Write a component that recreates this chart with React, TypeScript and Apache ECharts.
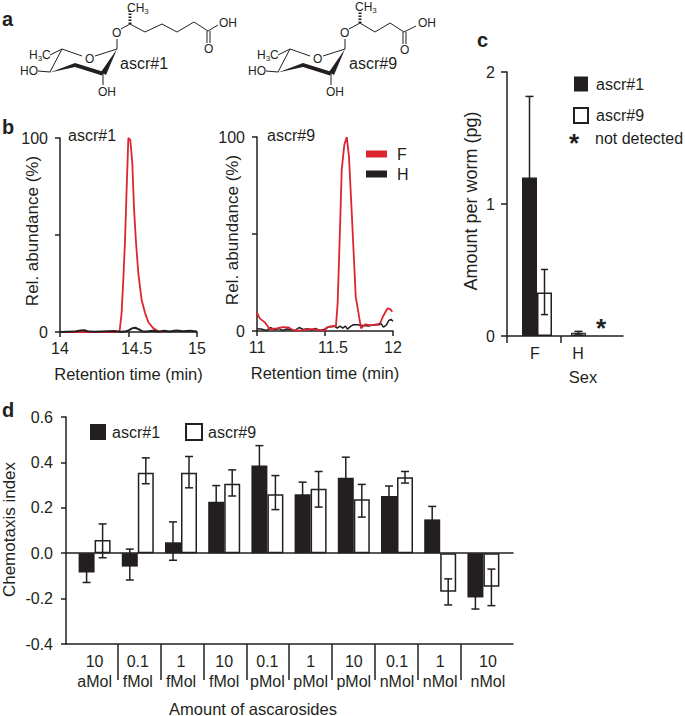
import React, { useEffect, useRef } from "react";
import * as echarts from "echarts";

const INK = "#231f20";
const RED = "#dc2530";
const FONT = "Liberation Sans";

// Panel b, ascr#1 chromatogram: [retention time, relative abundance]
const b1Female = [[14,0],[14.2,0],[14.43,0],[14.436,1],[14.45,10],[14.462,27],[14.474,46],[14.487,75],[14.499,100],[14.513,99],[14.528,87],[14.54,64],[14.555,46],[14.572,30],[14.596,16.5],[14.62,10],[14.645,5],[14.68,2],[14.713,0.5],[14.75,0]];
const b1Hermaphrodite = [[14,0],[14.05,0.1],[14.1,0.2],[14.15,0.8],[14.18,0.9],[14.2,0.4],[14.25,0.1],[14.3,0.3],[14.35,0.4],[14.4,0.5],[14.44,0.1],[14.47,0.2],[14.5,0.8],[14.53,2],[14.55,2.2],[14.58,1.2],[14.6,0.4],[14.63,0.2],[14.68,0.6],[14.72,0.2],[14.76,0.7],[14.8,0.3],[14.85,0.8],[14.9,0.4],[14.95,0.7],[15,0.3]];

// Panel b, ascr#9 chromatogram
const b2Female = [[11,9.4],[11.02,6.5],[11.06,4.3],[11.095,0.9],[11.145,1.4],[11.19,2],[11.23,1.9],[11.265,0.5],[11.32,0.2],[11.365,0.9],[11.41,1],[11.465,0.5],[11.5,0.2],[11.51,1.7],[11.56,2.7],[11.58,2.2],[11.593,14.4],[11.61,52],[11.623,83],[11.642,96],[11.66,100],[11.676,90],[11.696,62],[11.726,17.7],[11.765,1.4],[11.795,3.4],[11.83,3],[11.87,3],[11.905,4],[11.93,8],[11.96,11.7],[11.98,11.3],[11.995,10]];
const b2Hermaphrodite = [[11,1.2],[11.03,1],[11.07,0.3],[11.1,1.7],[11.13,0.8],[11.16,1.2],[11.19,0.3],[11.22,1],[11.25,0.6],[11.28,0.3],[11.31,1.8],[11.34,0.8],[11.37,1.2],[11.4,0.5],[11.43,1.3],[11.46,0.3],[11.49,0.8],[11.51,1.3],[11.53,2.3],[11.55,2.2],[11.57,2.5],[11.59,1.5],[11.61,2.5],[11.63,1.5],[11.65,2.5],[11.665,1],[11.69,2.5],[11.71,3.2],[11.74,3.2],[11.76,3],[11.78,2.8],[11.82,2.6],[11.87,3.4],[11.9,3.2],[11.91,4],[11.93,2],[11.95,3],[11.97,5.5],[11.985,6],[12,5]];

// Panel c
const sexes = ["F", "H"];
const cAscr1 = [1.2, 0.025];
const cAscr1Low = [0.6, 0.015];
const cAscr1High = [1.815, 0.035];
const cAscr9 = [0.33, null];
const cAscr9Low = [0.162, null];
const cAscr9High = [0.504, null];

// Panel d
const amounts = ["10\naMol", "0.1\nfMol", "1\nfMol", "10\nfMol", "0.1\npMol", "1\npMol", "10\npMol", "0.1\nnMol", "1\nnMol", "10\nnMol"];
const dAscr1 = [-0.085, -0.059, 0.048, 0.227, 0.386, 0.26, 0.332, 0.252, 0.149, -0.195];
const dAscr1Low = [-0.129, -0.118, -0.031, 0.156, 0.298, 0.207, 0.241, 0.208, 0.092, -0.246];
const dAscr1High = [-0.041, 0.018, 0.138, 0.298, 0.474, 0.313, 0.423, 0.296, 0.206, -0.144];
const dAscr9 = [0.058, 0.354, 0.354, 0.306, 0.26, 0.284, 0.238, 0.335, -0.17, -0.148];
const dAscr9Low = [-0.02, 0.306, 0.288, 0.252, 0.192, 0.203, 0.159, 0.309, -0.228, -0.231];
const dAscr9High = [0.129, 0.42, 0.426, 0.367, 0.342, 0.36, 0.303, 0.36, -0.113, -0.07];
const dTickPositions = [118, 161, 204, 247, 289, 332, 375, 418, 461];

const txt = (text: string, x: number, y: number, fontSize = 16, extra: any = {}) => ({
  type: "text",
  x,
  y,
  silent: true,
  style: { text, fontSize, fontFamily: FONT, fill: INK, textAlign: "left", textVerticalAlign: "middle", ...extra },
});
const bond = (x1: number, y1: number, x2: number, y2: number, lineWidth = 1) => ({
  type: "line",
  silent: true,
  shape: { x1, y1, x2, y2 },
  style: { stroke: INK, lineWidth },
});
const poly = (points: number[][]) => ({ type: "polygon", silent: true, shape: { points }, style: { fill: INK } });
const chain = (points: number[][]) => ({ type: "polyline", silent: true, shape: { points }, style: { stroke: INK, lineWidth: 1, fill: "none" } });

const subRich = {
  a: { fontSize: 12, fontFamily: FONT, fill: INK, lineHeight: 14 },
  s: { fontSize: 8, fontFamily: FONT, fill: INK, lineHeight: 14, verticalAlign: "bottom" },
};

function ring(dx: number) {
  const p = (x: number, y: number) => [x + dx, y];
  return [
    bond(50 + dx, 55, 62 + dx, 49),
    bond(62 + dx, 49, 82 + dx, 56),
    bond(95 + dx, 56, 117 + dx, 49),
    bond(62 + dx, 49, 50 + dx, 72),
    poly([p(117, 49), p(106, 75), p(101, 72)]),
    poly([p(75, 63), p(75, 67), p(102, 75.5), p(104, 72)]),
    poly([p(50, 72.5), p(75, 63), p(75, 67)]),
    bond(38 + dx, 71, 50 + dx, 72),
    bond(103 + dx, 73, 103 + dx, 85),
    bond(117 + dx, 49, 117 + dx, 39),
    txt("{a|H}{s|3}{a|C}", 29 + dx, 55, 12, { rich: subRich }),
    txt("HO", 20 + dx, 71, 12),
    txt("OH", 98 + dx, 92, 12),
    txt("O", 85 + dx, 59, 12),
    txt("O", 112 + dx, 33, 12),
  ];
}

const structureA = [
  ...ring(0),
  chain([[121, 29], [130, 24], [145, 32], [162, 24], [177, 32], [194, 22], [208, 31]]),
  { type: "line", silent: true, shape: { x1: 130, y1: 24, x2: 130, y2: 11 }, style: { stroke: INK, lineWidth: 3, lineDash: [1.5, 1.5] } },
  bond(207, 31, 207, 43),
  bond(210, 31, 210, 43),
  bond(208, 31, 218, 25),
  txt("{a|CH}{s|3}", 127, 8, 12, { rich: subRich }),
  txt("O", 204, 49, 12),
  txt("OH", 219, 23, 12),
  txt("ascr#1", 120, 63),
];
const structureB = [
  ...ring(228),
  chain([[349, 29], [360, 23], [375, 32], [390, 23], [404, 32]]),
  { type: "line", silent: true, shape: { x1: 360, y1: 23, x2: 360, y2: 10 }, style: { stroke: INK, lineWidth: 3, lineDash: [1.5, 1.5] } },
  bond(403, 32, 403, 44),
  bond(406, 32, 406, 44),
  bond(404, 32, 416, 26),
  txt("{a|CH}{s|3}", 355, 7, 12, { rich: subRich }),
  txt("O", 400, 50, 12),
  txt("OH", 418, 23, 12),
  txt("ascr#9", 349, 63),
];

const panelLetters = [
  txt("a", 2, 19, 20, { fontWeight: "bold" }),
  txt("b", 2, 127, 20, { fontWeight: "bold" }),
  txt("c", 477, 40, 20, { fontWeight: "bold" }),
  txt("d", 2, 410, 20, { fontWeight: "bold" }),
];

const axisLine = { show: true, onZero: false, lineStyle: { color: INK, width: 1.5 } };
const tick = { show: true, length: 5, lineStyle: { color: INK, width: 1.5 } };
const labelStyle = { color: INK, fontSize: 16, fontFamily: FONT };
const nameStyle = { color: INK, fontSize: 16.5, fontFamily: FONT };

function retentionAxis(gridIndex: number, min: number, max: number, mid: number) {
  return {
    type: "value",
    gridIndex,
    min,
    max,
    interval: mid - min,
    axisLine,
    axisTick: tick,
    splitLine: { show: false },
    name: "Retention time (min)",
    nameLocation: "middle",
    nameGap: 33,
    nameMoveOverlap: false,
    nameTextStyle: nameStyle,
    axisLabel: {
      ...labelStyle,
      margin: 8,
      hideOverlap: false,
      formatter: (v: number) => (v === mid ? `{m|${v}}` : String(v)),
      rich: { m: { ...labelStyle, padding: [0, 0, 0, 16] } },
    },
  };
}
function abundanceAxis(gridIndex: number, nameGap: number) {
  return {
    type: "value",
    gridIndex,
    min: 0,
    max: 100,
    interval: 50,
    axisLine,
    axisTick: tick,
    splitLine: { show: false },
    name: "Rel. abundance (%)",
    nameLocation: "middle",
    nameGap,
    nameMoveOverlap: false,
    nameTextStyle: { ...nameStyle, fontSize: 17, padding: [0, 0, 0, 8] },
    axisLabel: { ...labelStyle, margin: 12, formatter: (v: number) => (v === 50 ? "" : String(v)) },
  };
}
const hiddenY = (gridIndex: number, min: number, max: number) => ({ type: "value", gridIndex, min, max, show: false, splitLine: { show: false } });

function errorBars(name: string, xAxisIndex: number, yAxisIndex: number, low: any[], high: any[], offset: number, cap: number) {
  return {
    type: "custom",
    name,
    xAxisIndex,
    yAxisIndex,
    z: 5,
    clip: false,
    data: low.map((l, i) => [i, l, high[i]]).filter((d) => d[1] !== null),
    encode: { x: 0, y: [1, 2] },
    renderItem: (_: any, api: any) => {
      const a = api.coord([api.value(0), api.value(1)]);
      const b = api.coord([api.value(0), api.value(2)]);
      const x = a[0] + offset;
      const style = { stroke: INK, lineWidth: 1.5 };
      return {
        type: "group",
        children: [
          { type: "line", shape: { x1: x, y1: a[1], x2: x, y2: b[1] }, style },
          { type: "line", shape: { x1: x - cap, y1: a[1], x2: x + cap, y2: a[1] }, style },
          { type: "line", shape: { x1: x - cap, y1: b[1], x2: x + cap, y2: b[1] }, style },
        ],
      };
    },
  };
}

const lineSeries = (name: string, data: number[][], color: string, i: number, width: number, z: number) => ({
  type: "line",
  name,
  data,
  xAxisIndex: i,
  yAxisIndex: i,
  symbol: "none",
  z,
  clip: false,
  itemStyle: { color },
  lineStyle: { color, width },
});

const filled = { color: INK };
const hollow = { color: "#fff", borderColor: INK, borderWidth: 1.5 };

const option = {
  animation: false,
  textStyle: { fontFamily: FONT },
  grid: [
    { left: 60, top: 138, width: 137, height: 194, outerBoundsMode: "none" },
    { left: 257, top: 137, width: 136, height: 194, outerBoundsMode: "none" },
    { left: 507, top: 72, width: 116, height: 264, outerBoundsMode: "none" },
    { left: 512.5, top: 72, width: 98, height: 264, outerBoundsMode: "none" },
    { left: 66, top: 417, width: 447, height: 227, outerBoundsMode: "none" },
    { left: 73, top: 417, width: 432, height: 227, outerBoundsMode: "none" },
  ],
  xAxis: [
    retentionAxis(0, 14, 15, 14.5),
    retentionAxis(1, 11, 12, 11.5),
    {
      type: "value",
      gridIndex: 2,
      min: 507,
      max: 623,
      axisLine,
      axisTick: { ...tick, length: 7, customValues: [507, 561] },
      axisLabel: { show: false },
      splitLine: { show: false },
      name: "Sex",
      nameLocation: "middle",
      nameGap: 32,
      nameMoveOverlap: false,
      nameTextStyle: { ...nameStyle, padding: [0, 0, 0, 36] },
    },
    {
      type: "category",
      gridIndex: 3,
      data: sexes,
      axisLine: { show: false },
      axisTick: { show: false },
      axisLabel: {
        ...labelStyle,
        margin: 9,
        interval: 0,
        hideOverlap: false,
        formatter: (v: string) => `{${v}|${v}}`,
        rich: { F: { ...labelStyle, padding: [0, 4, 0, 0] }, H: { ...labelStyle, padding: [0, 16, 0, 0] } },
      },
    },
    {
      type: "value",
      gridIndex: 4,
      position: "bottom",
      min: 66,
      max: 513,
      axisLine,
      axisTick: { ...tick, length: 36, customValues: dTickPositions },
      axisLabel: { show: false },
      splitLine: { show: false },
      name: "Amount of ascarosides",
      nameLocation: "middle",
      nameGap: 56,
      nameMoveOverlap: false,
      nameTextStyle: { ...nameStyle, padding: [0, 73, 0, 0] },
    },
    {
      type: "value",
      gridIndex: 4,
      position: "top",
      min: 66,
      max: 513,
      axisLine: { show: true, onZero: true, lineStyle: { color: INK, width: 1.5 } },
      axisTick: { show: false },
      axisLabel: { show: false },
      splitLine: { show: false },
    },
    {
      type: "category",
      gridIndex: 5,
      data: amounts,
      axisLine: { show: false },
      axisTick: { show: false },
      axisLabel: {
        ...labelStyle,
        lineHeight: 20,
        margin: 7,
        interval: 0,
        formatter: (v: string, i: number) => {
          if (i !== amounts.length - 1) return v;
          return v.split("\n").map((s) => `{r|${s}}`).join("\n");
        },
        rich: { r: { ...labelStyle, lineHeight: 20, padding: [0, 0, 0, 9] } },
      },
    },
  ],
  yAxis: [
    abundanceAxis(0, 19),
    abundanceAxis(1, 16),
    {
      type: "value",
      gridIndex: 2,
      min: 0,
      max: 2,
      interval: 1,
      axisLine,
      axisTick: { ...tick, length: 6 },
      splitLine: { show: false },
      name: "Amount per worm (pg)",
      nameLocation: "middle",
      nameGap: 27,
      nameMoveOverlap: false,
      nameTextStyle: { ...nameStyle, fontSize: 18, padding: [0, 0, 0, 6] },
      axisLabel: { ...labelStyle, margin: 12 },
    },
    hiddenY(3, 0, 2),
    {
      type: "value",
      gridIndex: 4,
      min: -0.4,
      max: 0.6,
      interval: 0.2,
      axisLine,
      axisTick: tick,
      splitLine: { show: false },
      name: "Chemotaxis index",
      nameLocation: "middle",
      nameGap: 48,
      nameMoveOverlap: false,
      nameTextStyle: { ...nameStyle, fontSize: 17, padding: [0, 0, 0, 2] },
      axisLabel: { ...labelStyle, margin: 13, formatter: (v: number) => v.toFixed(1) },
    },
    hiddenY(5, -0.4, 0.6),
  ],
  legend: [
    {
      left: 366,
      top: 146,
      padding: 0,
      orient: "vertical",
      itemWidth: 21,
      itemHeight: 7,
      itemGap: 4,
      selectedMode: false,
      data: [{ name: "F", icon: "rect" }, { name: "H", icon: "rect" }],
      textStyle: { ...labelStyle, padding: [0, 0, 0, 5], lineHeight: 16 },
    },
    {
      left: 573,
      top: 76,
      padding: 0,
      orient: "vertical",
      itemWidth: 14,
      itemHeight: 15,
      itemGap: 15,
      selectedMode: false,
      data: [{ name: "ascr#1", icon: "rect" }, { name: "ascr#9", icon: "rect" }],
      textStyle: { ...labelStyle, padding: [0, 0, 0, 3] },
    },
    {
      left: 90,
      top: 423,
      padding: 0,
      orient: "horizontal",
      itemWidth: 16,
      itemHeight: 16,
      itemGap: 25,
      selectedMode: false,
      data: [{ name: "ascr#1", icon: "rect" }, { name: "ascr#9", icon: "rect" }],
      textStyle: { ...labelStyle, padding: [0, 0, 0, 1] },
    },
  ],
  series: [
    lineSeries("F", b1Female, RED, 0, 1.8, 2),
    lineSeries("H", b1Hermaphrodite, INK, 0, 2, 3),
    lineSeries("F", b2Female, RED, 1, 1.8, 3),
    lineSeries("H", b2Hermaphrodite, INK, 1, 1.5, 2),
    {
      type: "bar",
      name: "ascr#1",
      xAxisIndex: 3,
      yAxisIndex: 3,
      barWidth: 15,
      barGap: "0%",
      itemStyle: filled,
      data: [cAscr1[0], { value: cAscr1[1], itemStyle: { color: "#8c8a8a", borderColor: INK, borderWidth: 1 } }],
    },
    { type: "bar", name: "ascr#9", xAxisIndex: 3, yAxisIndex: 3, barWidth: 15, barGap: "0%", itemStyle: hollow, data: cAscr9 },
    errorBars("ascr#1 error", 3, 3, cAscr1Low, cAscr1High, -7.5, 4),
    errorBars("ascr#9 error", 3, 3, cAscr9Low, cAscr9High, 7.5, 3.5),
    { type: "bar", name: "ascr#1", xAxisIndex: 6, yAxisIndex: 5, barWidth: 16, barGap: "0%", itemStyle: filled, data: dAscr1 },
    { type: "bar", name: "ascr#9", xAxisIndex: 6, yAxisIndex: 5, barWidth: 16, barGap: "0%", itemStyle: hollow, data: dAscr9 },
    errorBars("ascr#1 error", 6, 5, dAscr1Low, dAscr1High, -8, 4),
    errorBars("ascr#9 error", 6, 5, dAscr9Low, dAscr9High, 8, 4),
  ],
  graphic: {
    elements: [
      ...panelLetters,
      ...structureA,
      ...structureB,
      txt("ascr#1", 68, 135),
      txt("ascr#9", 267, 135),
      txt("*", 569, 143, 26, { fontWeight: "bold" }),
      txt("not detected", 595, 138),
      txt("*", 596, 328, 26, { fontWeight: "bold" }),
    ],
  },
};

export default function App() {
  const ref = useRef<HTMLDivElement>(null);
  useEffect(() => {
    const chart = echarts.init(ref.current!, undefined, { renderer: "svg" });
    chart.setOption(option as any);
    return () => chart.dispose();
  }, []);
  return <div ref={ref} style={{ position: "absolute", left: 0, top: 0, width: 685, height: 716, background: "#fff" }} />;
}
